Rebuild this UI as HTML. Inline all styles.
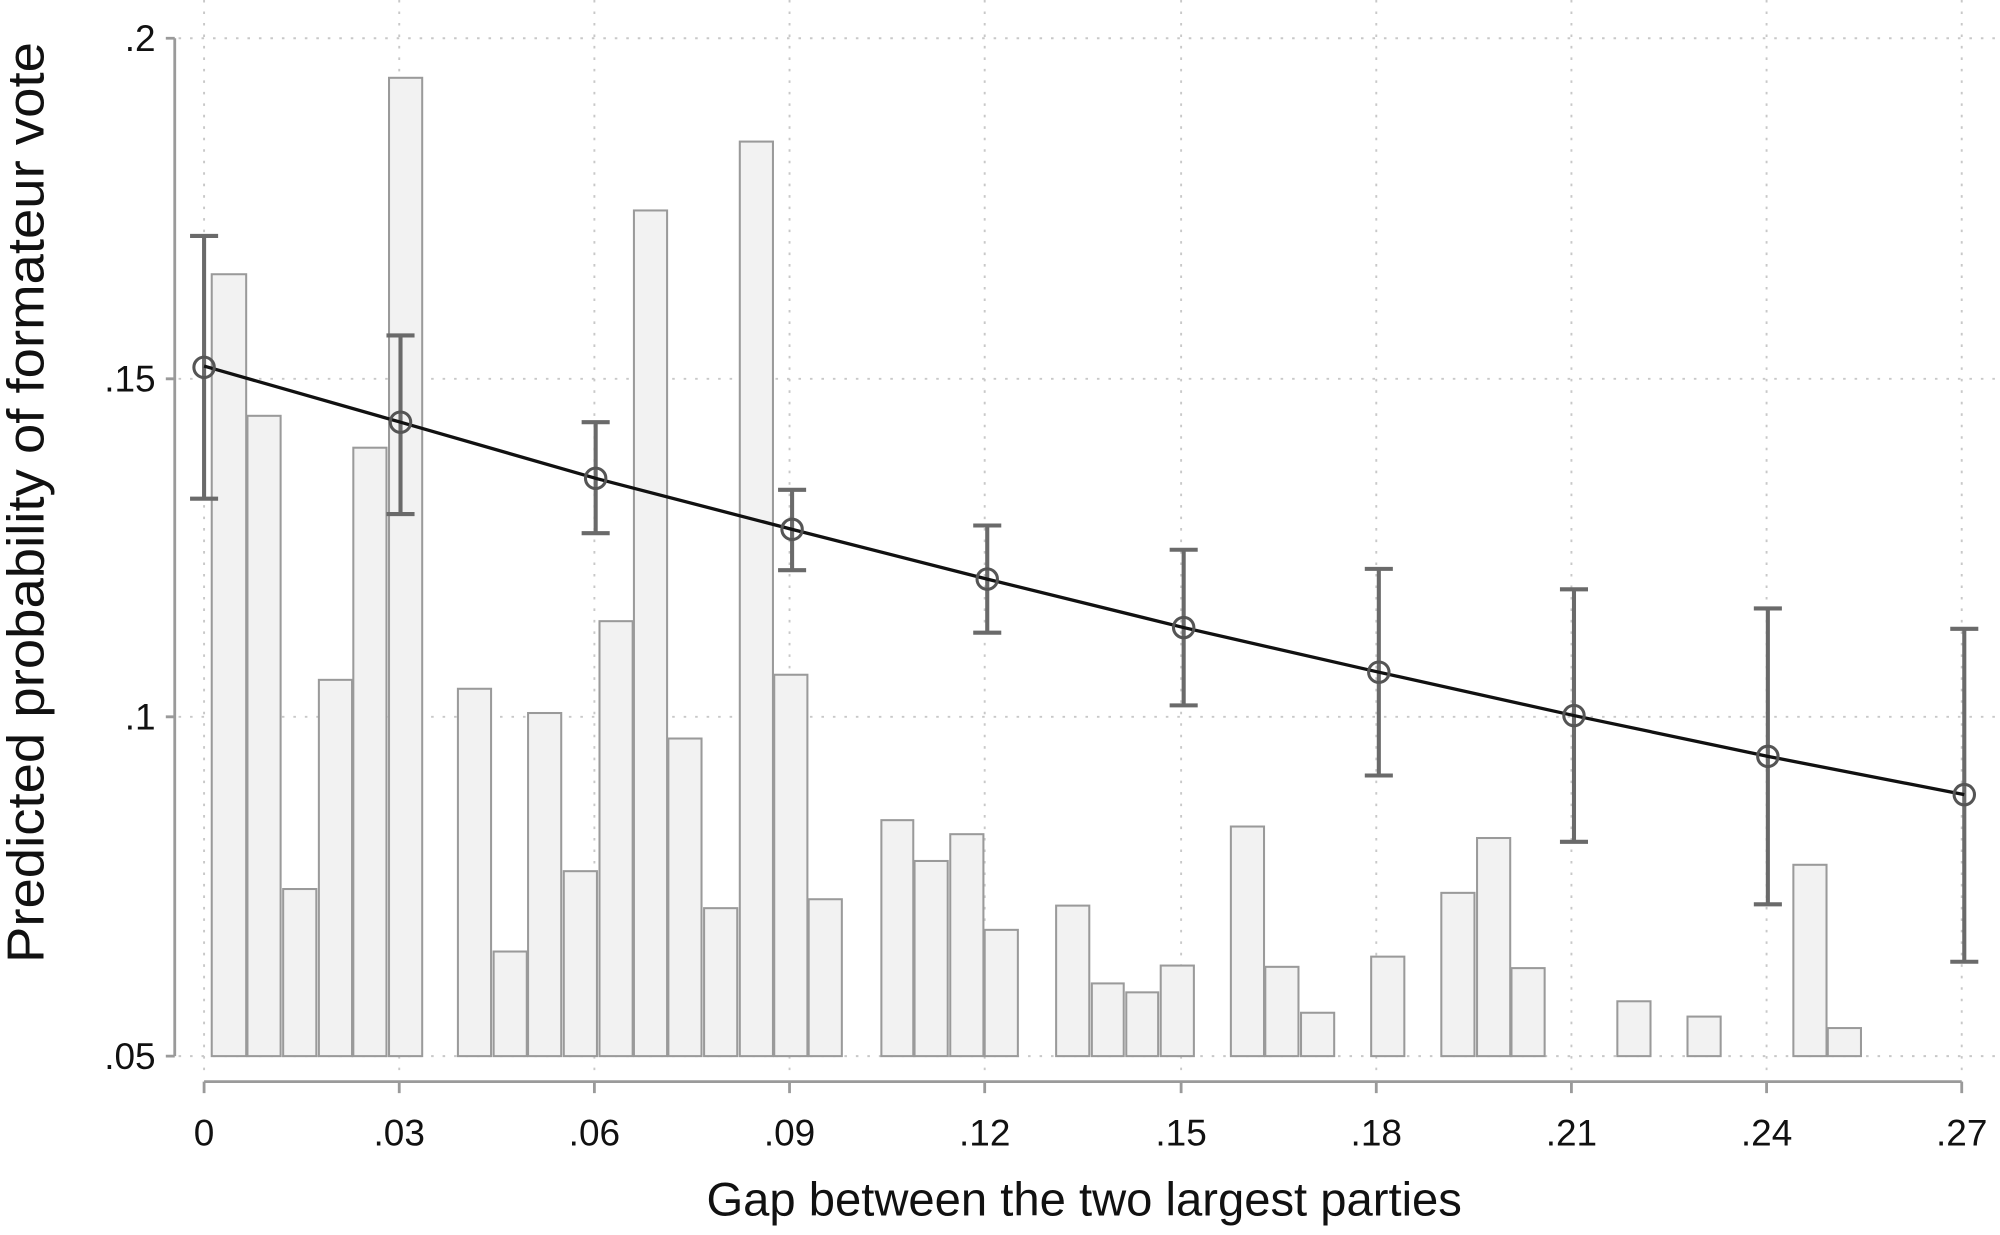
<!DOCTYPE html>
<html><head><meta charset="utf-8"><style>html,body{margin:0;padding:0;background:#fff}svg{display:block}</style></head>
<body>
<svg width="2000" height="1235" viewBox="0 0 1568 968.24" xmlns="http://www.w3.org/2000/svg" font-family="'Liberation Sans', Arial, sans-serif">
<rect width="1568" height="968.24" fill="#fff"/>
<g stroke="#c8c8c8" stroke-width="1.5" stroke-dasharray="2,7">
<line x1="140" y1="30" x2="1568" y2="30"/><line x1="140" y1="297" x2="1568" y2="297"/>
<line x1="140" y1="562" x2="1568" y2="562"/><line x1="140" y1="828" x2="1568" y2="828"/>
<line x1="160" y1="0" x2="160" y2="845"/><line x1="313" y1="0" x2="313" y2="845"/><line x1="466" y1="0" x2="466" y2="845"/>
<line x1="619" y1="0" x2="619" y2="845"/><line x1="772" y1="0" x2="772" y2="845"/><line x1="926" y1="0" x2="926" y2="845"/>
<line x1="1079" y1="0" x2="1079" y2="845"/><line x1="1232" y1="0" x2="1232" y2="845"/><line x1="1385" y1="0" x2="1385" y2="845"/>
<line x1="1538" y1="0" x2="1538" y2="845"/>
</g>
<g fill="#f2f2f2" stroke="#9a9a9a" stroke-width="1.6">
<rect x="166" y="215" width="27" height="613"/><rect x="194" y="326" width="26" height="502"/>
<rect x="222" y="697" width="26" height="131"/><rect x="250" y="533" width="26" height="295"/>
<rect x="277" y="351" width="26" height="477"/><rect x="305" y="61" width="26" height="767"/>
<rect x="359" y="540" width="26" height="288"/><rect x="387" y="746" width="26" height="82"/>
<rect x="414" y="559" width="26" height="269"/><rect x="442" y="683" width="26" height="145"/>
<rect x="470" y="487" width="26" height="341"/><rect x="497" y="165" width="26" height="663"/>
<rect x="524" y="579" width="26" height="249"/><rect x="552" y="712" width="26" height="116"/>
<rect x="580" y="111" width="26" height="717"/><rect x="607" y="529" width="26" height="299"/>
<rect x="634" y="705" width="26" height="123"/>
<rect x="691" y="643" width="25" height="185"/><rect x="717" y="675" width="26" height="153"/>
<rect x="745" y="654" width="26" height="174"/><rect x="772" y="729" width="26" height="99"/>
<rect x="828" y="710" width="26" height="118"/><rect x="856" y="771" width="25" height="57"/>
<rect x="883" y="778" width="25" height="50"/><rect x="910" y="757" width="26" height="71"/>
<rect x="965" y="648" width="26" height="180"/><rect x="992" y="758" width="26" height="70"/>
<rect x="1020" y="794" width="26" height="34"/>
<rect x="1075" y="750" width="26" height="78"/>
<rect x="1130" y="700" width="26" height="128"/><rect x="1158" y="657" width="26" height="171"/>
<rect x="1185" y="759" width="26" height="69"/>
<rect x="1268" y="785" width="26" height="43"/>
<rect x="1323" y="797" width="26" height="31"/>
<rect x="1406" y="678" width="26" height="150"/><rect x="1433" y="806" width="26" height="22"/>
</g>
<g stroke="#6a6a6a" stroke-width="3.2" fill="none">
<path d="M160 185V391M149 185H171M149 391H171"/>
<path d="M314 263V403M303 263H325M303 403H325"/>
<path d="M467 331V418M456 331H478M456 418H478"/>
<path d="M621 384V447M610 384H632M610 447H632"/>
<path d="M774 412V496M763 412H785M763 496H785"/>
<path d="M928 431V553M917 431H939M917 553H939"/>
<path d="M1081 446V608M1070 446H1092M1070 608H1092"/>
<path d="M1234 462V660M1223 462H1245M1223 660H1245"/>
<path d="M1386 477V709M1375 477H1397M1375 709H1397"/>
<path d="M1540 493V754M1529 493H1551M1529 754H1551"/>
</g>
<polyline fill="none" stroke="#111" stroke-width="2.6" points="160,287 314,331 467,375 621,415 774,454 928,492 1081,527 1234,561 1386,593 1540,623"/>
<g fill="none" stroke="#555" stroke-width="2.4">
<circle cx="160" cy="288" r="8"/><circle cx="314" cy="331" r="8"/><circle cx="467" cy="375" r="8"/>
<circle cx="621" cy="415" r="8"/><circle cx="774" cy="454" r="8"/><circle cx="928" cy="492" r="8"/>
<circle cx="1081" cy="527" r="8"/><circle cx="1234" cy="561" r="8"/><circle cx="1386" cy="593" r="8"/>
<circle cx="1540" cy="623" r="8"/>
</g>
<g stroke="#9a9a9a" stroke-width="2.2" fill="none">
<path d="M137 30V828M130 30H137M130 297H137M130 562H137M130 828H137"/>
<path d="M160 848H1538M160 848V857M313 848V857M466 848V857M619 848V857M772 848V857M926 848V857M1079 848V857M1232 848V857M1385 848V857M1538 848V857"/>
</g>
<g font-size="29" fill="#111" text-anchor="end">
<text x="122" y="40">.2</text><text x="122" y="307">.15</text><text x="122" y="572">.1</text><text x="122" y="838">.05</text>
</g>
<g font-size="29" fill="#111" text-anchor="middle">
<text x="160" y="898">0</text><text x="313" y="898">.03</text><text x="466" y="898">.06</text><text x="619" y="898">.09</text>
<text x="772" y="898">.12</text><text x="926" y="898">.15</text><text x="1079" y="898">.18</text><text x="1232" y="898">.21</text>
<text x="1385" y="898">.24</text><text x="1538" y="898">.27</text>
</g>
<text x="850" y="953" font-size="37" text-anchor="middle" fill="#111">Gap between the two largest parties</text>
<text transform="translate(34,394) rotate(-90)" font-size="41" text-anchor="middle" fill="#111" textLength="722" lengthAdjust="spacingAndGlyphs">Predicted probability of formateur vote</text>
</svg>
</body></html>
